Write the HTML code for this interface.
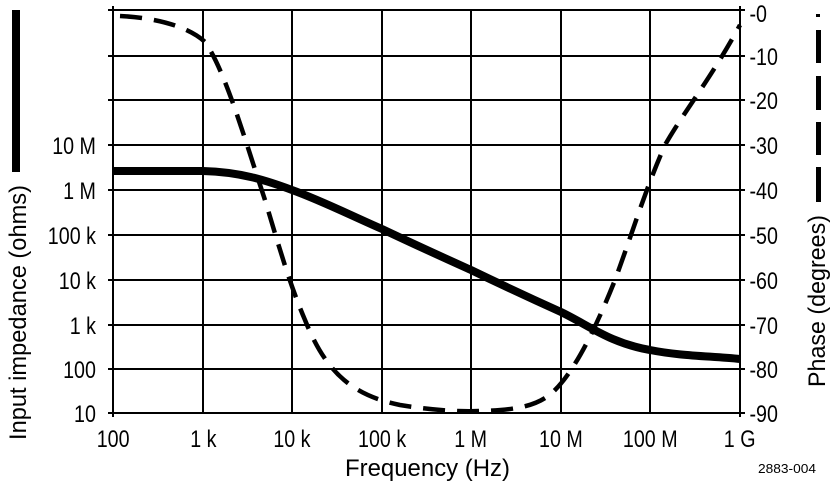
<!DOCTYPE html>
<html><head><style>body{margin:0;background:#fff}svg{display:block}text{font-family:"Liberation Sans",sans-serif;fill:#000}</style></head><body>
<svg width="836" height="490" viewBox="0 0 836 490" xmlns="http://www.w3.org/2000/svg">
<g stroke="#000" stroke-width="2" fill="none">
<path d="M113 6V417M203 10V413M292 10V413M382 10V413M471 10V413M561 10V413M650 10V413M740 6V417"/>
<path d="M108 10H745M108 56H745M108 100H745M108 145H745M108 190H745M108 235H745M108 280H745M108 325H745M108 369H745M108 413H745"/>
</g>
<path d="M113 171 L203 171 C240 172 265 180 292 190 C320 200 350 215 382 229 C420 247 440 256 471 270 C500 284 530 298 561 312 C590 326 610 343 650 350 C680 356 710 356 740 359" stroke="#000" stroke-width="8" fill="none"/>
<path d="M120 16 C160 18 190 28 205 42 C225 70 245 140 265 200 C280 250 290 285 305 320 C325 370 350 395 400 405 C430 410 460 412 480 411 C520 410 540 405 555 390 C575 370 595 330 615 280 C630 240 645 190 665 145 C685 110 710 80 740 25" stroke="#000" stroke-width="4.5" fill="none" stroke-dasharray="22,12"/>
<rect x="12" y="10" width="8" height="162" fill="#000"/>
<g fill="#000"><rect x="816" y="14" width="4" height="3"/><rect x="816" y="30" width="5" height="33"/><rect x="816" y="76" width="5" height="34"/><rect x="816" y="122" width="5" height="33"/><rect x="816" y="167" width="5" height="35"/></g>
<g font-size="24" text-anchor="end" transform="scale(0.82,1)">
<text x="117" y="154">10 M</text><text x="117" y="199">1 M</text><text x="117" y="244">100 k</text><text x="117" y="289">10 k</text><text x="117" y="334">1 k</text><text x="117" y="378">100</text><text x="117" y="422">10</text>
</g>
<g font-size="24" text-anchor="start" transform="scale(0.82,1)">
<text x="914" y="22">-0</text><text x="914" y="65">-10</text><text x="914" y="109">-20</text><text x="914" y="154">-30</text><text x="914" y="199">-40</text><text x="914" y="244">-50</text><text x="914" y="289">-60</text><text x="914" y="334">-70</text><text x="914" y="378">-80</text><text x="914" y="422">-90</text>
</g>
<g font-size="24" text-anchor="middle" transform="scale(0.82,1)">
<text x="138" y="447">100</text><text x="248" y="447">1 k</text><text x="356" y="447">10 k</text><text x="466" y="447">100 k</text><text x="574" y="447">1 M</text><text x="684" y="447">10 M</text><text x="793" y="447">100 M</text><text x="902" y="447">1 G</text>
</g>
<text x="345" y="476" font-size="24" textLength="165" lengthAdjust="spacingAndGlyphs">Frequency (Hz)</text>
<text transform="translate(26,440) rotate(-90)" font-size="24" textLength="255" lengthAdjust="spacingAndGlyphs">Input impedance (ohms)</text>
<text transform="translate(825,387) rotate(-90)" font-size="24" textLength="172" lengthAdjust="spacingAndGlyphs">Phase (degrees)</text>
<text x="758" y="473" font-size="13" textLength="58" lengthAdjust="spacingAndGlyphs">2883-004</text>
</svg>
</body></html>
